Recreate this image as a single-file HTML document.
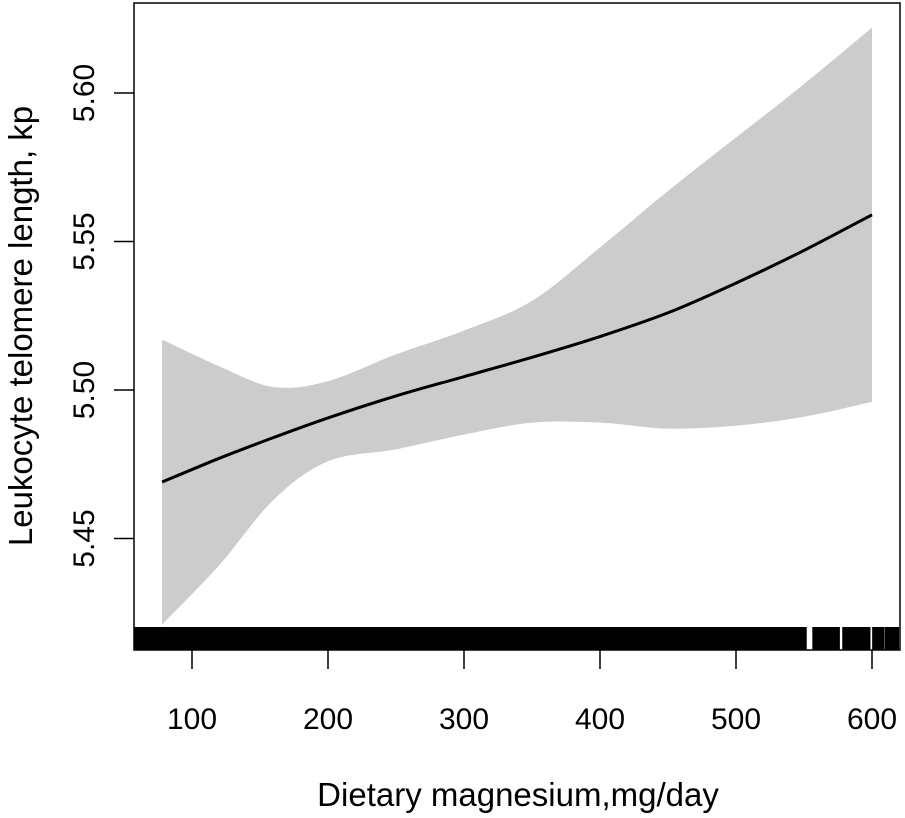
<!DOCTYPE html>
<html><head><meta charset="utf-8"><style>
body{margin:0;background:#fff}
svg text{font-family:"Liberation Sans",Arial,sans-serif;fill:#000}
</style></head><body>
<svg width="905" height="813">
<g id="plot"></g>
</svg>
<script>
const xs=[78,120,160,200,250,300,350,400,450,500,550,600];
const fit=[5.469,5.477,5.484,5.4906,5.498,5.5045,5.511,5.518,5.526,5.536,5.547,5.559];
const upper=[5.517,5.508,5.501,5.503,5.512,5.520,5.530,5.548,5.567,5.585,5.603,5.622];
const lower=[5.421,5.441,5.463,5.476,5.480,5.485,5.489,5.489,5.487,5.488,5.491,5.496];
const xTicks=[100,200,300,400,500,600];
const yTicks=[5.45,5.50,5.55,5.60];
const rugDenseRange=[57,552];
const rugSparse=[557,558,559,560,561,562,563,564,565,566,567,568,569,570,571.5,572.5,573.5,574.5,575.5,579,580,581,582,583,584,585,586,587,588,589,590,591,592,593,594,595,596,597,598,601,602,603,604,605,606,607,608,610,611,612,613,614,615,616,617,618,619];
const X=v=>192+(v-100)*1.36, Y=v=>93+(5.60-v)*2970;
const ns='http://www.w3.org/2000/svg', g=document.getElementById('plot');
function el(t,a,txt){const e=document.createElementNS(ns,t);for(const k in a)e.setAttribute(k,a[k]);if(txt!=null)e.textContent=txt;g.appendChild(e);return e;}
function smooth(pts){let s='M'+pts[0][0]+','+pts[0][1];for(let i=0;i<pts.length-1;i++){const p0=pts[i-1]||pts[i],p1=pts[i],p2=pts[i+1],p3=pts[i+2]||p2;
s+='C'+(p1[0]+(p2[0]-p0[0])/6)+','+(p1[1]+(p2[1]-p0[1])/6)+' '+(p2[0]-(p3[0]-p1[0])/6)+','+(p2[1]-(p3[1]-p1[1])/6)+' '+p2[0]+','+p2[1];}return s;}
const up=xs.map((x,i)=>[X(x),Y(upper[i])]), lo=xs.map((x,i)=>[X(x),Y(lower[i])]).reverse();
let d=smooth(up)+'L'+smooth(lo).slice(1)+'Z';
let band=el('path',{d,fill:'#cccccc'});


let line=el('path',{d:smooth(xs.map((x,i)=>[X(x),Y(fit[i])])),fill:'none',stroke:'#000','stroke-width':3});


let rd=el('rect',{x:Math.max(134,X(rugDenseRange[0])),y:627,width:X(rugDenseRange[1])-Math.max(134,X(rugDenseRange[0])),height:23,fill:'#000'});


rugSparse.forEach(v=>{const r=el('rect',{x:X(v)-1.2,y:627,width:2.4,height:23,fill:'#000'});

});
let fr=el('rect',{x:134,y:3,width:766,height:647,fill:'none',stroke:'#000','stroke-width':1.5});


xTicks.forEach(v=>{const t=el('line',{x1:X(v),x2:X(v),y1:650,y2:669,stroke:'#000','stroke-width':1.5});


const l=el('text',{x:X(v),y:729,'font-size':30,'text-anchor':'middle'},v);

});
yTicks.forEach(v=>{const t=el('line',{x1:114,x2:134,y1:Y(v),y2:Y(v),stroke:'#000','stroke-width':1.5});


const l=el('text',{x:0,y:0,'font-size':30,'text-anchor':'middle',transform:`translate(94,${Y(v)}) rotate(-90)`},v.toFixed(2));

});
let xt=el('text',{x:518,y:806,'font-size':33,'text-anchor':'middle'},'Dietary magnesium,mg/day');


let yt=el('text',{x:0,y:0,'font-size':33,'text-anchor':'middle',transform:'translate(32,326) rotate(-90)'},'Leukocyte telomere length, kp');


</script>
</body></html>
